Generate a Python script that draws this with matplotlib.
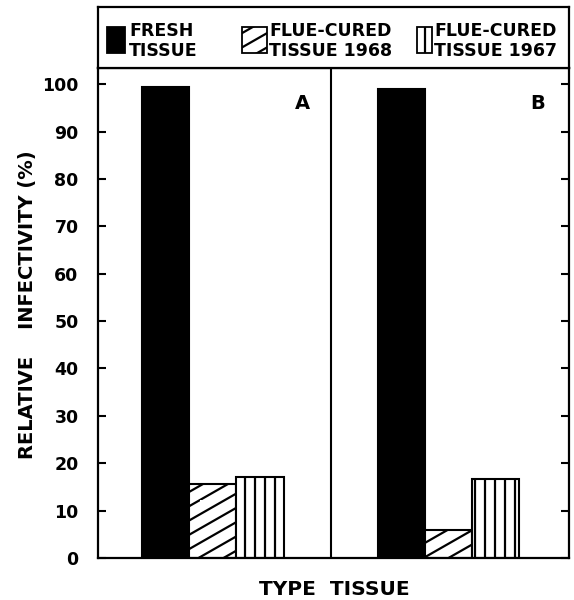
import matplotlib
matplotlib.use("Agg")
import matplotlib.pyplot as plt
import matplotlib.hatch as mhatch
from matplotlib.path import Path
from matplotlib.patches import Rectangle
import numpy as np

# relative infectivity (%)
panels = ["A", "B"]
fresh = [99.3, 98.9]
cured_1968 = [15.6, 5.9]
cured_1967 = [17.0, 16.7]
series_labels = ["FRESH\nTISSUE", "FLUE-CURED\nTISSUE 1968", "FLUE-CURED\nTISSUE 1967"]
yticks = list(range(0, 101, 10))


# the drawing uses a shallow slant and wider vertical lines than the stock hatches
class SlantHatch(mhatch.HatchPatternBase):
    def __init__(self, hatch, density):
        self.num_lines = 11 if "/" in hatch else 0
        self.num_vertices = self.num_lines * 2

    def set_vertices_and_codes(self, vertices, codes):
        c = np.arange(-4, 7) / 7.0
        vertices[0::2, 0] = 0.0
        vertices[0::2, 1] = c
        vertices[1::2, 0] = 1.0
        vertices[1::2, 1] = c + 4 / 7.0
        codes[0::2] = Path.MOVETO
        codes[1::2] = Path.LINETO


class WideVertical(mhatch.HatchPatternBase):
    def __init__(self, hatch, density):
        self.num_lines = 10 if "|" in hatch else 0
        self.num_vertices = self.num_lines * 2

    def set_vertices_and_codes(self, vertices, codes):
        steps = (np.arange(10) + 0.5) / 10.0
        vertices[0::2, 0] = steps
        vertices[0::2, 1] = 0.0
        vertices[1::2, 0] = steps
        vertices[1::2, 1] = 1.0
        codes[0::2] = Path.MOVETO
        codes[1::2] = Path.LINETO


mhatch._hatch_types[:] = [SlantHatch, WideVertical]

plt.rcParams['font.family'] = ['DejaVu Sans']
plt.rcParams['hatch.linewidth'] = 1.6

fig = plt.figure(figsize=(5.74, 6.0), dpi=100)
ax = fig.add_axes([98/574, 1-558/600, 471/574, 490/600])

centers = np.array([2.44, 7.44])
w = 1.0
styles = [dict(color="black", edgecolor="black"),
          dict(facecolor="white", edgecolor="black", hatch="/"),
          dict(facecolor="white", edgecolor="black", hatch="|")]
for off, vals, st in zip([-1, 0, 1], [fresh, cured_1968, cured_1967], styles):
    ax.bar(centers + off*w, vals, w, linewidth=1.5, **st)

ax.set_xlim(0, 10)
ax.set_ylim(0, 103.4)
ax.axvline(4.95, color="black", lw=1.5)
ax.set_xticks([])
ax.set_yticks(yticks)
ax.set_yticklabels([str(t) for t in yticks], fontsize=12.5, fontweight="bold")
ax.tick_params(axis="y", direction="in", length=6, width=1.5, right=True, pad=14)
for s in ax.spines.values():
    s.set_linewidth(1.6)

for c, p in zip(centers, panels):
    ax.text(c + 1.9, 96, p, fontsize=14, fontweight="bold", ha="center", va="center")

ax.set_ylabel("RELATIVE    INFECTIVITY (%)", fontsize=14, fontweight="bold")
ax.yaxis.set_label_coords(-0.13, 0.516)
ax.set_xlabel("TYPE  TISSUE", fontsize=14.5, fontweight="bold")
ax.xaxis.label.set_verticalalignment("bottom")
ax.xaxis.set_label_coords(0.502, -0.0835)

# legend box on top
lg = fig.add_axes([98/574, 1-68/600, 471/574, 61/600])
lg.set_xlim(98, 569)
lg.set_ylim(68, 7)
lg.set_xticks([])
lg.set_yticks([])
for s in lg.spines.values():
    s.set_linewidth(1.6)
patch_x = [107, 242, 417]
patch_w = [18, 25, 15]
text_x = [129, 269, 434]
for px, pw, tx, st, lab in zip(patch_x, patch_w, text_x, styles, series_labels):
    lg.add_patch(Rectangle((px, 27), pw, 26, linewidth=1.3, **st))
    lg.text(tx, 41, lab, fontsize=12.5, fontweight="bold", va="center", ha="left",
            linespacing=1.1)

fig.savefig("out.png", dpi=100)
